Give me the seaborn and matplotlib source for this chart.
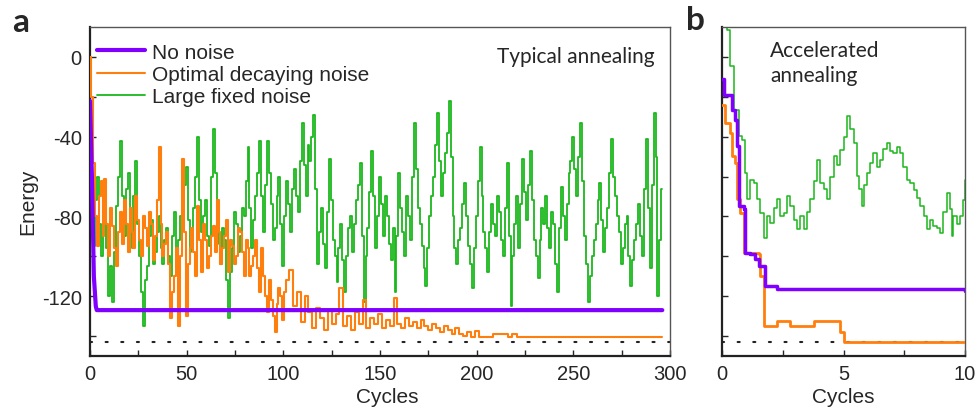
import numpy as np
import pandas as pd
import matplotlib
matplotlib.use("Agg")
import matplotlib.pyplot as plt
import seaborn as sns

# ---- panel a: typical annealing ----
nonoise_a_cycles = [0, 1, 2, 3, 3.5, 296]
nonoise_a_energy = [-22, -60, -110, -125, -127, -127]

decay_a_cycles = [0, 1] + list(range(2, 102)) + list(range(102, 204, 2)) + [215, 217, 220, 222, 296]
decay_a_energy = [
    0, -20,
    -53, -80, -95, -70, -62, -90, -61, -84, -100, -76, -85, -96, -105, -88, -78, -94, -72, -84, -98, -76,
    -88, -96, -70, -82, -92, -100, -80, -86, -95, -78, -84, -102, -90, -72, -45, -84, -100, -94, -88, -104,
    -131, -118, -110, -96, -135, -100, -51, -88, -130, -104, -96, -86, -98, -110, -75, -92, -108, -84, -92, -106,
    -100, -90, -85, -98, -72, -88, -104, -96, -90, -82, -108, -92, -95, -104, -100, -86, -88, -98, -110, -92,
    -96, -110, -105, -100, -92, -106, -118, -96, -110, -120, -128, -112, -122, -130, -138, -124, -116, -120, -132, -118,
    -112, -107, -125, -118, -133, -120, -128, -136, -126, -131,
    -137, -127, -134, -129, -116, -135, -130, -137, -128, -134,
    -122, -136, -131, -134, -129, -136, -132, -135, -121, -134,
    -136, -131, -135, -133, -136, -132, -135, -137, -134, -136,
    -138, -135, -137, -139, -136, -139, -140, -138, -140.5, -137.5,
    -140.5,
    -139, -140.5, -139, -140.5, -140.5,
]

fixed_a_cycles = np.arange(2, 297)
fixed_a_energy = [
    -95, -72, -60, -84, -100, -78, -62, -96, -120, -105, -123, -98, -75, -60, -42, -70, -90, -66, -58, -82,
    -96, -70, -52, -84, -100, -118, -135, -112, -105, -90, -82, -104, -98, -88, -80, -96, -104, -92, -86, -100,
    -110, -90, -78, -100, -92, -80, -70, -64, -55, -82, -98, -88, -76, -60, -40, -72, -88, -80, -72, -90,
    -95, -60, -36, -58, -80, -94, -104, -86, -92, -112, -131, -108, -96, -78, -84, -98, -90, -76, -80, -62,
    -45, -76, -96, -82, -70, -58, -42, -70, -88, -64, -42, -58, -74, -92, -86, -70, -60, -84, -105, -80,
    -62, -74, -88, -66, -56, -70, -78, -52, -33, -54, -70, -44, -52, -40, -29, -66, -104, -88, -76, -94,
    -106, -78, -51, -72, -92, -100, -113, -96, -84, -102, -118, -100, -86, -80, -98, -84, -72, -64, -53, -90,
    -123, -100, -86, -68, -47, -70, -96, -80, -60, -74, -90, -70, -80, -94, -102, -86, -118, -90, -58, -76,
    -88, -100, -70, -80, -92, -60, -33, -56, -76, -84, -95, -106, -115, -96, -80, -70, -60, -44, -28, -52,
    -70, -58, -48, -38, -22, -50, -80, -96, -104, -92, -86, -74, -63, -80, -95, -104, -116, -96, -80, -62,
    -45, -70, -88, -96, -108, -88, -74, -84, -90, -70, -78, -92, -100, -76, -53, -90, -125, -100, -84, -70,
    -96, -74, -51, -68, -82, -64, -47, -72, -92, -100, -111, -92, -76, -84, -70, -86, -96, -78, -84, -104,
    -118, -86, -65, -80, -92, -74, -58, -52, -40, -56, -70, -50, -33, -62, -90, -104, -123, -110, -100, -92,
    -84, -72, -63, -82, -98, -86, -76, -58, -41, -60, -70, -80, -88, -104, -96, -84, -80, -100, -115, -102,
    -92, -84, -74, -90, -100, -66, -41, -76, -106, -64, -28, -50, -120, -92, -66,
]

# ---- panel b: accelerated annealing ----
nonoise_b_cycles = [0, 0.1, 0.34, 0.41, 0.55, 0.62, 0.68, 0.89, 0.96, 1.16,
                    1.37, 1.51, 1.78, 2.26, 10]
nonoise_b_energy = [-11, -19.3, -19.3, -26.5, -31.5, -44.8, -74.8, -76.5, -98.2, -99,
                    -101.5, -104.8, -114.8, -116.5, -117.3]

decay_b_cycles = [0, 0.14, 0.34, 0.41, 0.55, 0.62, 0.75, 0.89, 1.51, 1.58,
                  1.71, 2.05, 2.26, 2.67, 2.81, 3.63, 3.77, 4.86, 5.0, 10]
decay_b_energy = [-24, -33.2, -38.2, -49.8, -53.2, -71.5, -78.2, -98.2, -99, -109.8,
                  -134.8, -134.8, -132.3, -132.3, -134.8, -134.8, -132.3, -138.2, -143.2, -143.2]

fixed_b_cycles = [0.1, 0.21, 0.34, 0.48, 0.68, 0.82, 0.96, 1.03, 1.16, 1.30,
                  1.44, 1.58, 1.71, 1.85, 1.99, 2.12, 2.26, 2.40, 2.53, 2.67,
                  2.81, 2.95, 3.08, 3.22, 3.36, 3.50, 3.63, 3.77, 3.90, 4.04,
                  4.18, 4.32, 4.45, 4.59, 4.73, 4.86, 5.00, 5.14, 5.28, 5.41,
                  5.55, 5.65, 5.75, 5.86, 5.96, 6.10, 6.23, 6.37, 6.51, 6.64,
                  6.78, 6.92, 7.05, 7.19, 7.33, 7.46, 7.60, 7.74, 7.88, 8.01,
                  8.15, 8.29, 8.42, 8.56, 8.70, 8.84, 8.97, 9.11, 9.25, 9.38,
                  9.45, 9.52, 9.65, 9.79, 9.90, 10.0]
fixed_b_energy = [30, 13.5, -4.8, -26.5, -39.8, -41.5, -58.2, -71.5, -61.5, -63.2,
                  -71.5, -78.2, -90.7, -79.8, -83.2, -76, -71.5, -80, -78.2, -70,
                  -74.8, -82, -86.5, -80, -86.5, -78, -71.5, -62, -51.5, -63.2,
                  -66, -71.5, -60, -49.8, -54, -46.5, -40, -29.8, -36, -43.2,
                  -59.8, -66, -74.8, -64, -58.2, -53, -48.2, -55, -51.5, -46,
                  -43.2, -47, -48.2, -45, -48.2, -55, -61.5, -63, -66.5, -71,
                  -74.8, -80, -86.5, -82, -84.8, -86, -88.2, -78, -68.2, -76.5,
                  -89.8, -79.8, -84, -79.8, -72, -61.5]

ground_energy = -143

# ---- style ----
sns.set_style("ticks")
plt.rcParams["font.family"] = ["Liberation Sans", "DejaVu Sans"]
plt.rcParams["font.size"] = 14.5
plt.rcParams["axes.unicode_minus"] = False

c_none = "#8000ff"
c_decay = "#ff7f0e"
c_fixed = "#1db71d"

fig = plt.figure(figsize=(9.76, 4.1), dpi=100)
ax_a = fig.add_axes([0.0922, 0.1293, 0.5943, 0.8024])
ax_b = fig.add_axes([0.7398, 0.1293, 0.2490, 0.8024])

# panel a
sns.lineplot(x=fixed_a_cycles, y=fixed_a_energy, ax=ax_a, color=c_fixed, lw=1.3,
             drawstyle="steps-mid", label="Large fixed noise", zorder=2)
sns.lineplot(x=decay_a_cycles, y=decay_a_energy, ax=ax_a, color=c_decay, lw=1.5,
             drawstyle="steps-mid", label="Optimal decaying noise", zorder=3)
sns.lineplot(x=nonoise_a_cycles, y=nonoise_a_energy, ax=ax_a, color=c_none, lw=3,
             label="No noise", zorder=4)

# panel b
sns.lineplot(x=fixed_b_cycles, y=fixed_b_energy, ax=ax_b, color=c_fixed, lw=1.1,
             drawstyle="steps-post", zorder=2)
sns.lineplot(x=decay_b_cycles, y=decay_b_energy, ax=ax_b, color=c_decay, lw=2,
             drawstyle="steps-post", zorder=3)
sns.lineplot(x=nonoise_b_cycles, y=nonoise_b_energy, ax=ax_b, color=c_none, lw=2.5,
             drawstyle="steps-post", zorder=4)

for ax in (ax_a, ax_b):
    ax.axhline(ground_energy, color="#222222", lw=1.5, linestyle=(0, (1, 6.5)),
               dash_capstyle="round", zorder=1)
    ax.set_ylim(-150, 15)
    ax.set_yticks([0, -40, -80, -120])
    ax.set_yticks([-20, -60, -100, -140], minor=True)
    ax.tick_params(which="both", direction="in", length=4, width=1, pad=6,
                   labelsize=14.5)
    for side in ("left", "bottom"):
        ax.spines[side].set_linewidth(1.6)
        ax.spines[side].set_color("#222222")
    for side in ("top", "right"):
        ax.spines[side].set_linewidth(1.0)
        ax.spines[side].set_color("#555555")

ax_a.set_xlim(0, 300)
ax_a.set_xticks(range(0, 301, 50))
ax_a.set_xticks(range(25, 300, 50), minor=True)
ax_b.set_xlim(0, 10)
ax_b.set_xticks([0, 5, 10])
ax_b.set_xticks([2.5, 7.5], minor=True)
ax_b.tick_params(axis="y", labelleft=False)

ax_a.set_xlabel("Cycles", fontsize=15)
ax_a.xaxis.set_label_coords(0.512, -0.094)
ax_a.set_ylabel("Energy", fontsize=15)
ax_a.yaxis.set_label_coords(-0.091, 0.471)
ax_b.set_xlabel("Cycles", fontsize=15)
ax_b.xaxis.set_label_coords(0.5, -0.094)
ax_b.set_ylabel("")

handles, labels = ax_a.get_legend_handles_labels()
order = [2, 1, 0]
ax_a.legend([handles[i] for i in order], [labels[i] for i in order],
            loc="upper left", bbox_to_anchor=(0.005, 0.965), frameon=False,
            fontsize=15, handlelength=2.3, handletextpad=0.35,
            labelspacing=0.15, borderpad=0.2, borderaxespad=0)

ax_a.text(0.974, 0.912, "Typical annealing", transform=ax_a.transAxes,
          ha="right", va="center", fontsize=15, family=["Lato", "DejaVu Sans"])
ax_b.text(0.198, 0.96, "Accelerated\nannealing", transform=ax_b.transAxes,
          ha="left", va="top", fontsize=15, linespacing=1.3,
          family=["Lato", "DejaVu Sans"])

fig.text(0.012, 0.922, "a", fontsize=24, fontweight="bold",
         family=["Lato", "DejaVu Sans"], va="baseline")
fig.text(0.703, 0.927, "b", fontsize=24, fontweight="bold",
         family=["Lato", "DejaVu Sans"], va="baseline")

fig.savefig("out.png", dpi=100)
